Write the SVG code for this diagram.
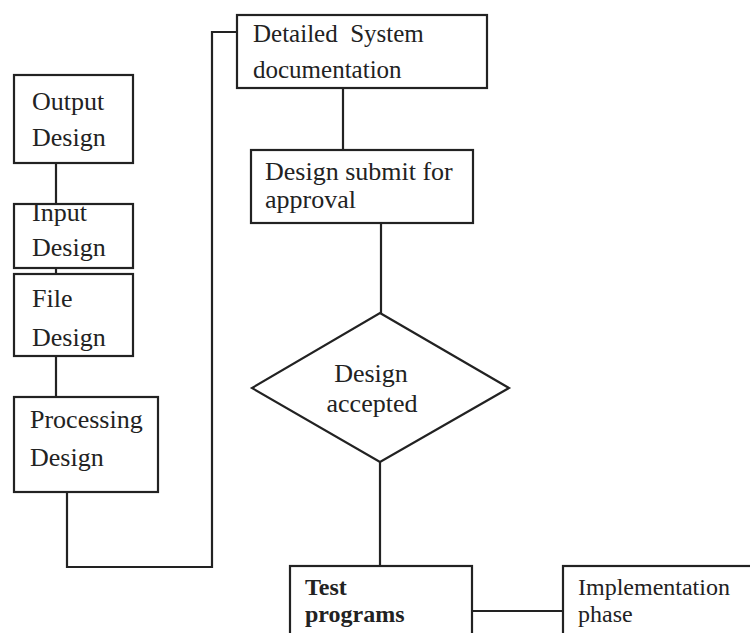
<svg xmlns="http://www.w3.org/2000/svg" width="750" height="633" viewBox="0 0 750 633">
<style>
.b{fill:#fff;stroke:#222;stroke-width:2.2}
.c{fill:none;stroke:#222;stroke-width:2.2}
text{font-family:"Liberation Serif","Times New Roman",serif;font-size:26px;fill:#222}
.m{font-size:25px}
.s{font-size:24px}
.bold{font-weight:bold;font-size:24px}
</style>
<rect width="750" height="633" fill="#fff"/>
<g id="connectors">
<line class="c" x1="56" y1="163" x2="56" y2="204"/>
<line class="c" x1="56" y1="268" x2="56" y2="274"/>
<line class="c" x1="56" y1="356" x2="56" y2="397"/>
<polyline class="c" points="67,492 67,567 212,567 212,32 237,32"/>
<line class="c" x1="343" y1="88" x2="343" y2="150"/>
<line class="c" x1="381" y1="223" x2="381" y2="313"/>
<line class="c" x1="380" y1="462" x2="380" y2="566"/>
<line class="c" x1="472" y1="611" x2="563" y2="611"/>
</g>
<g id="output"><rect class="b" x="14" y="75" width="119" height="88"/><text x="32" y="110">Output</text><text x="32" y="146">Design</text></g>
<g id="input"><rect class="b" x="14" y="204" width="119" height="64"/><text x="32" y="221">Input</text><text x="32" y="256">Design</text></g>
<g id="file"><rect class="b" x="14" y="274" width="119" height="82"/><text x="32" y="307">File</text><text x="32" y="346">Design</text></g>
<g id="processing"><rect class="b" x="14" y="397" width="144" height="95"/><text x="30" y="428">Processing</text><text x="30" y="466">Design</text></g>
<g id="detailed"><rect class="b" x="237" y="15" width="250" height="73"/><text class="m" x="253" y="42" xml:space="preserve">Detailed  System</text><text class="m" x="253" y="78">documentation</text></g>
<g id="submit"><rect class="b" x="251" y="150" width="222" height="73"/><text x="265" y="180">Design submit for</text><text x="265" y="208">approval</text></g>
<g id="accepted"><polygon class="b" points="380,313 509,388 380,462 252,388"/><text x="371" y="382" text-anchor="middle">Design</text><text x="372" y="412" text-anchor="middle">accepted</text></g>
<g id="test"><rect class="b" x="290" y="566" width="182" height="80"/><text class="bold" x="305" y="595">Test</text><text class="bold" x="305" y="622">programs</text></g>
<g id="implementation"><rect class="b" x="563" y="566" width="200" height="80"/><text class="s" x="578" y="595">Implementation</text><text class="s" x="578" y="622">phase</text></g>
</svg>
